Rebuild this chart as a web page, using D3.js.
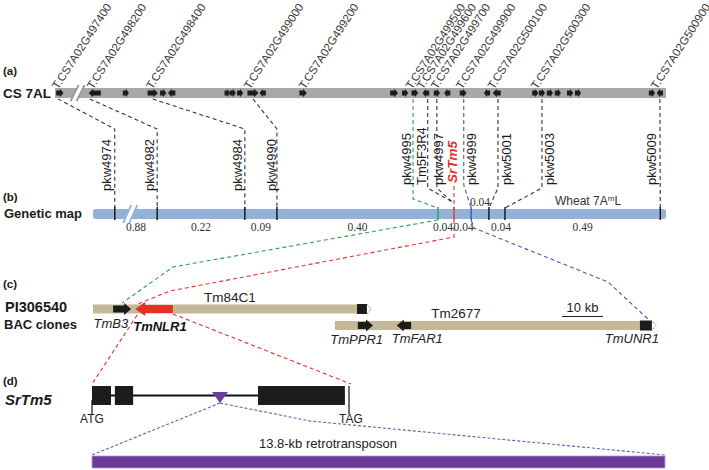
<!DOCTYPE html>
<html>
<head>
<meta charset="utf-8">
<script src="https://cdn.jsdelivr.net/npm/d3@7"></script>
<style>
body { margin: 0; background: #fff; }
svg { display: block; font-family: "Liberation Sans", Arial, sans-serif; }
</style>
</head>
<body>
<div id="viz"></div>
<script>
// (a) CS 7AL genes, positions in % of the segment shown
const geneNames = ["T.CS7A02G497400", "T.CS7A02G498200", "T.CS7A02G498400", "T.CS7A02G499000",
    "T.CS7A02G499200", "T.CS7A02G499500", "T.CS7A02G499600", "T.CS7A02G499700",
    "T.CS7A02G499900", "T.CS7A02G500100", "T.CS7A02G500300", "T.CS7A02G500900"];
const genePos = [0.5, 6.2, 15.9, 31.9, 40.9, 58.4, 60.2, 62.5, 66.6, 71.8, 78.9, 98.5];
const arrowPos = [0.8, 6.5, 11.6, 16.0, 17.7, 19.1, 28.2, 29.1, 30.3, 32.4, 34.0, 40.6, 55.5, 57.3,
    58.9, 60.7, 62.5, 64.2, 66.8, 70.7, 72.3, 78.6, 79.7, 81.0, 82.3, 84.3, 85.6, 97.7, 99.0];
const arrowLen = [1.2, 2.0, 1.0, 1.7, 1.0, 1.2, 0.9, 1.0, 1.0, 1.8, 1.0, 1.2, 1.3, 1.0,
    1.1, 1.1, 1.0, 1.0, 1.1, 1.0, 1.3, 1.0, 1.0, 1.0, 1.0, 1.0, 1.0, 1.0, 1.0];
const arrowStrand = [1, -1, 1, 1, 1, -1, 1, 1, 1, 1, -1, 1, 1, 1,
    1, -1, 1, -1, 1, -1, -1, 1, 1, 1, 1, 1, 1, 1, -1];

// (b) genetic map markers
const markerNames = ["pkw4974", "pkw4982", "pkw4984", "pkw4990", "pkw4995", "Tm5F3R4", "pkw4997",
    "SrTm5", "pkw4999", "pkw5001", "pkw5003", "pkw5009"];
const markerGene = [0.5, 5.7, 16.0, 32.4, 58.6, 61.0, 62.5, null, 66.9, 72.5, 79.7, 99.0];
const markerMap = [3.8, 11.2, 26.5, 32.1, 60.2, 62.7, 62.7, 63.0, 66.0, 69.1, 71.9, 99.0];
const mapTicks = [3.8, 11.2, 26.5, 32.1, 60.2, 63.0, 66.0, 69.1, 71.9, 99.0];
const mapDist = ["0.88", "0.22", "0.09", "0.40", "0.04", "0.04", "0.04", "0.04", "0.49"];

// (c) BAC clones, kb
const bacNames = ["Tm84C1", "Tm2677"];
const bacStart = [0, 59.0];
const bacEnd = [66.8, 136.3];
const bacGeneNames = ["TmB3", "TmNLR1", "", "TmPPR1", "TmFAR1", "TmUNR1"];
const bacGeneBac = [0, 0, 0, 1, 1, 1];
const bacGeneStart = [4.9, 10.3, 64.4, 64.6, 74.1, 133.4];
const bacGeneEnd = [9.3, 19.5, 67.8, 68.3, 77.6, 137.3];
const bacGeneStrand = [1, -1, 1, 1, -1, 1];

// (d) SrTm5 gene model, % of gene length
const exonStart = [0, 8.9, 64.6];
const exonEnd = [7.4, 16.0, 98.4];
const insertPos = 49.8;
const retroKb = 13.8;

const W = 709, H = 470;
const svg = d3.select('#viz').append('svg').attr('width', W).attr('height', H);

const xA = d3.scaleLinear().domain([0, 100]).range([55, 666]);
const xB = d3.scaleLinear().domain([0, 100]).range([93, 666]);
const xC = d3.scaleLinear().domain([0, 10]).range([93, 134]);
const xD = d3.scaleLinear().domain([0, 100]).range([92, 349]);
const xE = d3.scaleLinear().domain([0, retroKb]).range([92, 665]);

const green = '#2ca24a', red = '#e8302a', blue = '#3d5db8', purple = '#7a52b3';

function arrowPath(x0, x1, y, bodyH, headH, headL, strand) {
    const b = bodyH / 2, h = headH / 2;
    if (strand > 0) {
        const xh = x1 - headL;
        return `M${x0},${y - b}L${xh},${y - b}L${xh},${y - h}L${x1},${y}L${xh},${y + h}L${xh},${y + b}L${x0},${y + b}Z`;
    }
    const xh = x0 + headL;
    return `M${x1},${y - b}L${xh},${y - b}L${xh},${y - h}L${x0},${y}L${xh},${y + h}L${xh},${y + b}L${x1},${y + b}Z`;
}

function breakMark(x, y0, y1, color) {
    const s = 4;
    svg.append('path')
        .attr('d', `M${x - 3 - s},${y1}L${x - 3 + s},${y0}L${x + 3 + s},${y0}L${x + 3 - s},${y1}Z`)
        .attr('fill', '#fff');
    [-3, 3].forEach(d => {
        svg.append('line')
            .attr('x1', x + d - s).attr('y1', y1)
            .attr('x2', x + d + s).attr('y2', y0)
            .attr('stroke', color).attr('stroke-width', 1.8);
    });
}

function dashed(points, color, dash) {
    svg.append('path')
        .attr('d', d3.line()(points))
        .attr('fill', 'none')
        .attr('stroke', color)
        .attr('stroke-width', 1.1)
        .attr('stroke-dasharray', dash || '4,3');
}

function label(x, y, t, size, opts) {
    opts = opts || {};
    return svg.append('text')
        .attr('x', x).attr('y', y)
        .attr('font-size', size)
        .attr('font-weight', opts.bold ? 'bold' : null)
        .attr('font-style', opts.italic ? 'italic' : null)
        .attr('font-family', opts.serif ? '"Liberation Serif", "Times New Roman", serif' : null)
        .attr('text-anchor', opts.anchor || 'start')
        .attr('fill', opts.color || '#1a1a1a')
        .text(t);
}

// ---------- connectors (drawn under the bars) ----------
const kinkY = { pkw4995: 199, Tm5F3R4: 188, pkw4997: 188, pkw4999: 185, pkw5001: 188, pkw5003: 188 };
markerNames.forEach((m, i) => {
    const xb = xB(markerMap[i]);
    if (markerGene[i] === null) {
        dashed([[xb, 186], [xb, 209]], red);
        return;
    }
    const xa = xA(markerGene[i]);
    const color = m === 'pkw4995' ? green : m === 'pkw4999' ? blue : '#333';
    let pts;
    if (i < 4) {
        pts = [[xa, 99], [xb, 129], [xb, 209]];
    } else if (kinkY[m]) {
        const endY = (m === 'Tm5F3R4' || m === 'pkw4997') ? 202 : 208;
        pts = [[xa, 99], [xa, kinkY[m]], [xb, endY]];
    } else {
        pts = [[xa, 99], [xb, 209]];
    }
    dashed(pts, color);
});

// (b) -> (c)
const bacY = [309, 325.5];
dashed([[xB(60.2), 220], [173, 267], [xC((bacGeneStart[0] + bacGeneEnd[0]) / 2), 303]], green);
dashed([[xB(63.0), 220], [xB(63.0), 237], [170, 291], [xC(bacGeneStart[1]), 305]], red);
dashed([[xB(66.0), 220], [474, 228], [608, 282], [xC((bacGeneStart[5] + bacGeneEnd[5]) / 2), 319]], blue);

// (c) -> (d)
dashed([[xC(bacGeneStart[1]) + 2, 315], [xD(0), 384]], red);
dashed([[xC(bacGeneEnd[1]), 314], [xD(100) + 2, 384]], red);

// (d) insertion -> retrotransposon
const triX = xD(insertPos);
dashed([[triX, 403], [xE(0), 455]], purple, '3,2');
dashed([[triX, 403], [310, 421], [xE(retroKb), 455]], purple, '3,2');

// ---------- (a) CS 7AL ----------
label(3, 75, '(a)', 11.5, { bold: true });
label(3, 98, 'CS 7AL', 13.5, { bold: true });

svg.append('rect')
    .attr('x', xA(0)).attr('y', 88)
    .attr('width', xA(100) - xA(0)).attr('height', 10)
    .attr('fill', '#a8a8a8');
breakMark(xA(3.7), 85, 101, '#9a9a9a');

svg.append('g').selectAll('path')
    .data(arrowPos)
    .join('path')
    .attr('d', (p, i) => {
        const half = (xA(arrowLen[i]) - xA(0)) / 2;
        const cx = xA(p);
        return arrowPath(cx - half, cx + half, 93, 5, 8.5, Math.min(4.5, half), arrowStrand[i]);
    })
    .attr('fill', '#1c1c1c');

svg.append('g').selectAll('text')
    .data(geneNames)
    .join('text')
    .attr('transform', (d, i) => `translate(${xA(genePos[i])},90) rotate(-57)`)
    .attr('font-size', 11.5)
    .attr('fill', '#3a3a3a')
    .text(d => d);

// ---------- (b) genetic map ----------
label(3, 201, '(b)', 11.5, { bold: true });
label(4, 218, 'Genetic map', 13, { bold: true });

svg.append('rect')
    .attr('x', xB(0)).attr('y', 209)
    .attr('width', xB(100) - xB(0)).attr('height', 10)
    .attr('rx', 3)
    .attr('fill', '#93b2da');
breakMark(xB(6.5), 205, 223, '#93b2da');

mapTicks.forEach(t => {
    const c = t === 60.2 ? green : t === 63.0 ? red : t === 66.0 ? blue : '#111';
    svg.append('line')
        .attr('x1', xB(t)).attr('x2', xB(t))
        .attr('y1', 207).attr('y2', 220)
        .attr('stroke', c).attr('stroke-width', 1.4);
});

mapDist.forEach((d, i) => {
    let x = (xB(mapTicks[i]) + xB(mapTicks[i + 1])) / 2;
    if (i === 4) x -= 3;
    if (i === 5) x += 1;
    if (i === 7) x += 4;
    label(x, i === 6 ? 206 : 231, d, 11.5, { serif: true, anchor: 'middle', color: '#333' });
});

const wheat = label(555, 205, 'Wheat 7A', 12, { color: '#333' });
wheat.append('tspan').attr('font-size', 8).attr('dy', -4).text('m');
wheat.append('tspan').attr('dy', 4).text('L');

const labelDx = [-8, -8, -7, -5, -7, -6, 2, -2, 8, 8, 7, -8];
markerNames.forEach((m, i) => {
    const lineX = markerGene[i] === null ? xB(markerMap[i]) : (i < 4 ? xB(markerMap[i]) : xA(markerGene[i]));
    const bottom = i < 4 ? 191 : (m === 'SrTm5' ? 183 : 185);
    const isSr = m === 'SrTm5';
    svg.append('text')
        .attr('transform', `translate(${lineX + labelDx[i]},${bottom}) rotate(-90)`)
        .attr('dy', '0.35em')
        .attr('font-size', isSr ? 13.5 : 13)
        .attr('font-weight', isSr ? 'bold' : null)
        .attr('font-style', isSr ? 'italic' : null)
        .attr('fill', isSr ? red : '#1a1a1a')
        .text(m);
});

// ---------- (c) BAC clones ----------
label(3, 288, '(c)', 11.5, { bold: true });
label(5, 312, 'PI306540', 14.5, { bold: true });
label(4, 329, 'BAC clones', 13, { bold: true });

bacNames.forEach((b, i) => {
    svg.append('rect')
        .attr('x', xC(bacStart[i])).attr('y', bacY[i] - 4.5)
        .attr('width', xC(bacEnd[i]) - xC(bacStart[i])).attr('height', 9)
        .attr('fill', '#c3b996');
});
label((xC(bacStart[0]) + xC(bacEnd[0])) / 2, 302, bacNames[0], 13.5, { anchor: 'middle', color: '#222' });
label(456, 318, bacNames[1], 13.5, { anchor: 'middle', color: '#222' });

bacGeneNames.forEach((g, i) => {
    const b = bacGeneBac[i], y = bacY[b];
    const x0 = xC(bacGeneStart[i]), x1 = xC(bacGeneEnd[i]);
    if (bacGeneEnd[i] > bacEnd[b]) {
        // truncated at the clone end
        const xe = xC(bacEnd[b]);
        svg.append('rect').attr('x', x0).attr('y', y - 5).attr('width', xe - x0).attr('height', 10).attr('fill', '#1c1c1c');
        svg.append('path')
            .attr('d', `M${xe},${y - 5}L${x1},${y}L${xe},${y + 5}`)
            .attr('fill', 'none').attr('stroke', '#555').attr('stroke-width', 0.8).attr('stroke-dasharray', '1,1');
    } else if (g === 'TmNLR1') {
        svg.append('path').attr('d', arrowPath(x0, x1, y, 8, 14, 10, bacGeneStrand[i])).attr('fill', red);
    } else {
        svg.append('path').attr('d', arrowPath(x0, x1, y, 7, 12, 7, bacGeneStrand[i])).attr('fill', '#1c1c1c');
    }
});

label(xC(bacGeneEnd[0]) - 3, 328, 'TmB3', 13, { italic: true, anchor: 'end', color: '#222' });
label(xC(bacGeneStart[1]) - 2, 331, 'TmNLR1', 13, { italic: true, bold: true, color: '#111' });
label(xC(bacGeneEnd[3]) + 10, 344, 'TmPPR1', 13, { italic: true, anchor: 'end', color: '#222' });
label(xC(bacGeneStart[4]) - 5, 343, 'TmFAR1', 13, { italic: true, color: '#222' });
label(xC(bacGeneEnd[5]) + 3, 343, 'TmUNR1', 13, { italic: true, anchor: 'end', color: '#222' });

// scale bar
const sb0 = 562, sbLen = xC(10) - xC(0);
svg.append('line').attr('x1', sb0).attr('x2', sb0 + sbLen).attr('y1', 316.5).attr('y2', 316.5)
    .attr('stroke', '#222').attr('stroke-width', 1.2);
label(sb0 + sbLen / 2, 312, '10 kb', 13, { anchor: 'middle', color: '#222' });

// ---------- (d) SrTm5 ----------
label(3, 385, '(d)', 11.5, { bold: true });
label(5, 405, 'SrTm5', 15, { bold: true, italic: true });

svg.append('line')
    .attr('x1', xD(0)).attr('x2', xD(exonEnd[2]))
    .attr('y1', 395.5).attr('y2', 395.5)
    .attr('stroke', '#111').attr('stroke-width', 2.2);
svg.append('g').selectAll('rect')
    .data(exonStart)
    .join('rect')
    .attr('x', d => xD(d))
    .attr('y', 386)
    .attr('width', (d, i) => xD(exonEnd[i]) - xD(d))
    .attr('height', 19)
    .attr('fill', '#1c1c1c');
[0, 100].forEach(p => {
    svg.append('line')
        .attr('x1', xD(p)).attr('x2', xD(p))
        .attr('y1', p === 0 ? 400 : 386).attr('y2', 414)
        .attr('stroke', '#111').attr('stroke-width', 1.2);
});
label(xD(0), 423, 'ATG', 12, { anchor: 'middle', color: '#222' });
label(xD(100) + 2, 423, 'TAG', 12, { anchor: 'middle', color: '#222' });

svg.append('path')
    .attr('d', `M${triX - 8},${392}L${triX + 8},${392}L${triX},${403}Z`)
    .attr('fill', '#6d3b9e');

svg.append('rect')
    .attr('x', xE(0)).attr('y', 456)
    .attr('width', xE(retroKb) - xE(0)).attr('height', 12)
    .attr('fill', '#6a3a96')
    .attr('stroke', '#b9a1d4').attr('stroke-width', 0.8);
label(328, 448, retroKb + '-kb retrotransposon', 13, { anchor: 'middle', color: '#222' });
</script>
</body>
</html>
